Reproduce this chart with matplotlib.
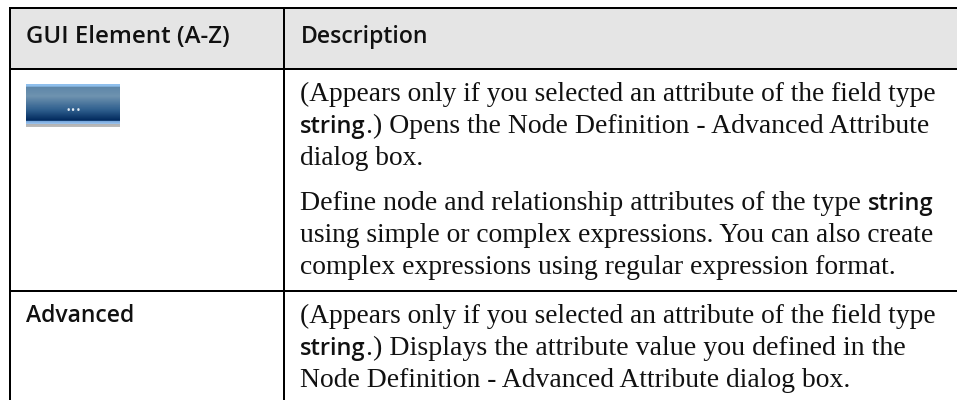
import numpy as np
import matplotlib
matplotlib.use("Agg")
import matplotlib.pyplot as plt
from matplotlib.colors import LinearSegmentedColormap

W, H = 957, 400
SERIF = "Liberation Serif"
SANS = "Open Sans"

headers = ["GUI Element (A-Z)", "Description"]
row_label = "Advanced"
button_label = "..."
lines = [
    [("(Appears only if you selected an attribute of the field type", False)],
    [("string", True), (".) Opens the Node Definition - Advanced Attribute", False)],
    [("dialog box.", False)],
    [("Define node and relationship attributes of the type ", False), ("string", True)],
    [("using simple or complex expressions. You can also create", False)],
    [("complex expressions using regular expression format.", False)],
    [("(Appears only if you selected an attribute of the field type", False)],
    [("string", True), (".) Displays the attribute value you defined in the", False)],
    [("Node Definition - Advanced Attribute dialog box.", False)],
]
baselines = [101, 133, 165, 210, 242, 274, 323, 355, 387]
serif_sizes = [19.7, 19.98, 19.7, 20.05, 19.83, 19.87, 19.7, 20.1, 19.88]

fig = plt.figure(figsize=(W / 100, H / 100), dpi=100)
ax = fig.add_axes([0, 0, 1, 1])
ax.set_xlim(0, W)
ax.set_ylim(H, 0)
ax.axis("off")

LEFT, MID, TOP, HEAD, ROW = 9.5, 283.7, 8, 69, 291
ax.fill_between([LEFT, W], TOP, HEAD, color="#e5e5e5", lw=0)
lw = 2 * 0.72
for y in (TOP, HEAD, ROW):
    ax.plot([LEFT - 1, W], [y, y], color="black", lw=lw, solid_capstyle="butt")
for x in (LEFT, MID):
    ax.plot([x, x], [TOP, H], color="black", lw=lw, solid_capstyle="butt")

cm = LinearSegmentedColormap.from_list("b", [
    (0, "#8fbfec"), (0.05, "#8fbfec"), (0.065, "#5d86a8"), (0.28, "#6f93b0"),
    (0.6, "#2f5f8e"), (0.85, "#00285c"), (0.855, "#6fa0d8"), (0.93, "#9cc4ee"),
    (0.945, "#b4b4b4"), (1, "#bcbcbc")])
ax.imshow(np.linspace(0, 1, 128)[:, None], extent=(26, 120, 127.5, 85.3), cmap=cm,
          aspect="auto", zorder=2, interpolation="nearest")
ax.set_xlim(0, W)
ax.set_ylim(H, 0)
ax.text(74, 111.3, button_label, color="#e4ecf4", fontsize=15, ha="center", family=SANS, zorder=3)

ax.text(26.5, 43, headers[0], fontsize=17.3, fontweight="semibold", family=SANS, color="#111111")
ax.text(300.5, 43, headers[1], fontsize=16.6, fontweight="semibold", family=SANS, color="#111111")
ax.text(26.5, 322, row_label, fontsize=16.5, fontweight="semibold", family=SANS, color="#111111")

renderer = fig.canvas.get_renderer()
for parts, y, size in zip(lines, baselines, serif_sizes):
    x = 300
    for s, bold in parts:
        kw = dict(family=SANS, fontweight="semibold", fontsize=17) if bold else dict(family=SERIF, fontsize=size)
        t = ax.text(x, y, s, color="#111111", **kw)
        x = t.get_window_extent(renderer).x1

fig.savefig("out.png", dpi=100)
